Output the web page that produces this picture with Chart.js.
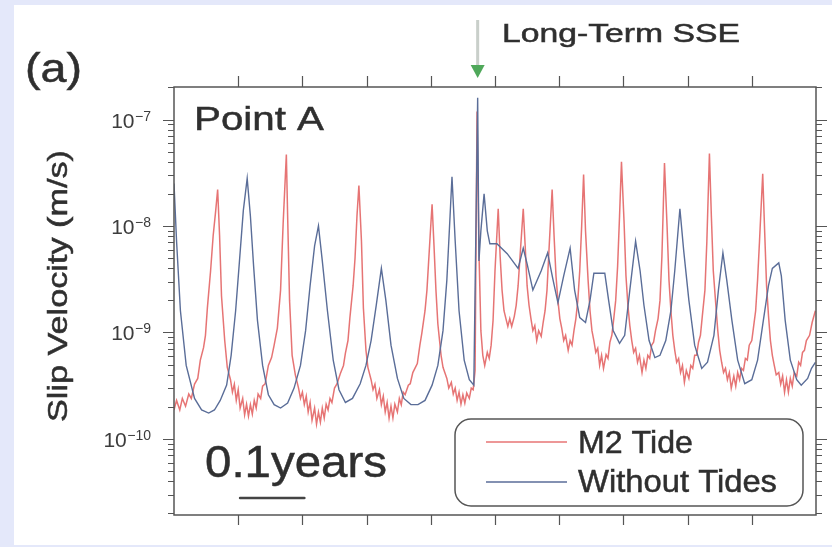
<!DOCTYPE html>
<html>
<head>
<meta charset="utf-8">
<script src="https://cdn.jsdelivr.net/npm/chart.js@4.4.0/dist/chart.umd.min.js"></script>
<style>
  html, body { margin: 0; padding: 0; background: #e4e8fa; }
  #wrap { width: 832px; height: 547px; }
</style>
</head>
<body>
<div id="wrap"><canvas id="slipChart" width="832" height="547"></canvas></div>
<script>
// time in years (axis spans 1 year, ticks every 0.1), slip velocity in m/s

// "Without Tides"
const freeT = [
  0.000, 0.004, 0.010, 0.019, 0.032, 0.043, 0.054, 0.063, 0.072, 0.082,
  0.089, 0.096, 0.102, 0.108, 0.114, 0.119, 0.124, 0.130, 0.138, 0.147,
  0.156, 0.166, 0.177, 0.187, 0.197, 0.205, 0.212, 0.219, 0.225, 0.231,
  0.239, 0.248, 0.257, 0.267, 0.278, 0.290, 0.299, 0.307, 0.315, 0.323,
  0.330, 0.338, 0.348, 0.358, 0.369, 0.380, 0.391, 0.402, 0.411, 0.419,
  0.425, 0.430, 0.433, 0.438, 0.444, 0.452, 0.460, 0.467, 0.473, 0.475,
  0.478, 0.483, 0.488, 0.492, 0.503, 0.519, 0.536, 0.544, 0.550, 0.559,
  0.572, 0.582, 0.590, 0.598, 0.607, 0.617, 0.624, 0.632, 0.641, 0.648,
  0.654, 0.671, 0.677, 0.684, 0.694, 0.702, 0.710, 0.719, 0.726, 0.732,
  0.740, 0.749, 0.757, 0.766, 0.774, 0.780, 0.788, 0.794, 0.802, 0.811,
  0.822, 0.831, 0.841, 0.848, 0.855, 0.861, 0.869, 0.878, 0.889, 0.900,
  0.909, 0.918, 0.926, 0.932, 0.942, 0.946, 0.952, 0.960, 0.970, 0.977,
  0.987, 0.993, 0.999
];
const freeV = [
  2.5e-8, 7.2e-9, 1.6e-9, 4.9e-10, 2.4e-10, 1.87e-10, 1.75e-10, 1.87e-10, 2.3e-10, 3.2e-10,
  6.1e-10, 1.6e-9, 4.7e-9, 1.4e-8, 2.8e-8, 1.24e-8, 4.2e-9, 1.3e-9, 4.9e-10, 2.6e-10,
  2.1e-10, 1.95e-10, 2.17e-10, 3.0e-10, 4.9e-10, 1.04e-9, 2.75e-9, 6.5e-9, 1.0e-8, 4.7e-9,
  1.6e-9, 5.5e-10, 2.9e-10, 2.2e-10, 2.4e-10, 3.3e-10, 4.9e-10, 8.4e-10, 1.8e-9, 4.0e-9,
  2.0e-9, 7.6e-10, 3.7e-10, 2.4e-10, 2.1e-10, 2.1e-10, 2.3e-10, 3.2e-10, 4.9e-10, 1.04e-9,
  3.1e-9, 1.24e-8, 2.9e-8, 7.2e-9, 1.6e-9, 5.5e-10, 3.6e-10, 3.2e-10, 1.6e-7, 4.7e-9,
  9.0e-9, 2.0e-8, 9.0e-9, 6.8e-9, 6.8e-9, 5.5e-9, 4.0e-9, 6.2e-9, 4.4e-9, 2.5e-9,
  3.8e-9, 5.6e-9, 3.2e-9, 1.9e-9, 3.4e-9, 6.2e-9, 2.5e-9, 1.38e-9, 1.24e-9, 2.0e-9,
  3.6e-9, 3.6e-9, 2.0e-9, 1.04e-9, 7.9e-10, 9.4e-10, 2.5e-9, 7.2e-9, 3.8e-9, 1.8e-9,
  8.4e-10, 5.8e-10, 6.1e-10, 8.4e-10, 1.6e-9, 3.8e-9, 1.45e-8, 5.8e-9, 2.0e-9, 7.6e-10,
  4.6e-10, 5.25e-10, 9.4e-10, 2.5e-9, 5.6e-9, 3.1e-9, 1.3e-9, 5.5e-10, 3.3e-10, 3.6e-10,
  5.5e-10, 1.3e-9, 2.75e-9, 4.0e-9, 4.5e-9, 3.4e-9, 1.3e-9, 5.5e-10, 3.6e-10, 3.2e-10,
  3.7e-10, 4.6e-10, 5.25e-10
];

// "M2 Tide"
const tideT = [
  0.000, 0.004, 0.009, 0.013, 0.018, 0.023, 0.027, 0.032, 0.037, 0.041,
  0.046, 0.049, 0.052, 0.057, 0.061, 0.065, 0.068, 0.071, 0.074, 0.079,
  0.083, 0.088, 0.091, 0.094, 0.097, 0.100, 0.103, 0.107, 0.110, 0.113,
  0.116, 0.119, 0.122, 0.125, 0.128, 0.131, 0.135, 0.138, 0.142, 0.147,
  0.152, 0.156, 0.161, 0.166, 0.170, 0.175, 0.177, 0.180, 0.184, 0.189,
  0.194, 0.197, 0.200, 0.203, 0.206, 0.209, 0.212, 0.215, 0.219, 0.222,
  0.225, 0.228, 0.231, 0.234, 0.237, 0.240, 0.243, 0.246, 0.250, 0.254,
  0.259, 0.264, 0.267, 0.271, 0.274, 0.279, 0.282, 0.285, 0.288, 0.292,
  0.295, 0.299, 0.302, 0.307, 0.310, 0.313, 0.316, 0.320, 0.323, 0.326,
  0.329, 0.332, 0.335, 0.338, 0.341, 0.344, 0.348, 0.351, 0.354, 0.357,
  0.360, 0.365, 0.368, 0.372, 0.379, 0.383, 0.386, 0.391, 0.394, 0.399,
  0.402, 0.405, 0.408, 0.411, 0.416, 0.419, 0.425, 0.428, 0.432, 0.435,
  0.438, 0.441, 0.444, 0.447, 0.450, 0.453, 0.456, 0.460, 0.463, 0.466,
  0.469, 0.472, 0.475, 0.478, 0.481, 0.484, 0.488, 0.491, 0.494, 0.497,
  0.500, 0.505, 0.508, 0.511, 0.514, 0.517, 0.520, 0.523, 0.526, 0.530,
  0.533, 0.536, 0.539, 0.544, 0.547, 0.550, 0.553, 0.556, 0.559, 0.562,
  0.565, 0.568, 0.572, 0.575, 0.578, 0.581, 0.584, 0.589, 0.592, 0.595,
  0.598, 0.601, 0.604, 0.607, 0.610, 0.614, 0.617, 0.620, 0.623, 0.626,
  0.629, 0.632, 0.635, 0.638, 0.641, 0.645, 0.648, 0.651, 0.654, 0.657,
  0.660, 0.663, 0.666, 0.669, 0.673, 0.676, 0.679, 0.682, 0.685, 0.688,
  0.691, 0.694, 0.697, 0.701, 0.704, 0.707, 0.710, 0.713, 0.716, 0.719,
  0.722, 0.725, 0.729, 0.732, 0.735, 0.738, 0.741, 0.744, 0.747, 0.750,
  0.754, 0.757, 0.760, 0.764, 0.768, 0.771, 0.774, 0.777, 0.780, 0.783,
  0.786, 0.789, 0.792, 0.795, 0.798, 0.802, 0.805, 0.808, 0.811, 0.814,
  0.817, 0.820, 0.823, 0.827, 0.830, 0.834, 0.837, 0.840, 0.844, 0.847,
  0.850, 0.853, 0.856, 0.859, 0.862, 0.865, 0.868, 0.872, 0.875, 0.878,
  0.881, 0.884, 0.887, 0.890, 0.893, 0.896, 0.900, 0.903, 0.906, 0.909,
  0.912, 0.917, 0.920, 0.923, 0.926, 0.929, 0.932, 0.935, 0.938, 0.942,
  0.945, 0.948, 0.951, 0.954, 0.957, 0.960, 0.963, 0.966, 0.970, 0.973,
  0.976, 0.979, 0.982, 0.985, 0.990, 0.994, 0.999
];
const tideV = [
  1.87e-10, 2.3e-10, 1.87e-10, 2.4e-10, 2.03e-10, 2.64e-10, 2.4e-10, 3.27e-10, 3.7e-10, 5.5e-10,
  7.2e-10, 9.4e-10, 1.7e-9, 3.8e-9, 8.1e-9, 1.4e-8, 2.2e-8, 8.1e-9, 2.2e-9, 8.4e-10,
  4.7e-10, 3.6e-10, 2.75e-10, 3.27e-10, 2.3e-10, 2.9e-10, 1.95e-10, 2.4e-10, 1.68e-10, 2.12e-10,
  1.64e-10, 2.1e-10, 1.71e-10, 2.3e-10, 1.95e-10, 2.64e-10, 2.4e-10, 3.13e-10, 3.3e-10, 4.9e-10,
  5.8e-10, 7.6e-10, 1.1e-9, 2.5e-9, 1.05e-8, 4.7e-8, 1.24e-8, 2.0e-9, 6.1e-10, 4.0e-10,
  3.0e-10, 2.4e-10, 2.75e-10, 2.1e-10, 2.52e-10, 1.79e-10, 2.2e-10, 1.5e-10, 1.95e-10, 1.38e-10,
  1.79e-10, 1.44e-10, 1.95e-10, 1.57e-10, 2.12e-10, 1.87e-10, 2.4e-10, 2.2e-10, 3.0e-10, 3.3e-10,
  4.1e-10, 4.9e-10, 6.4e-10, 8.4e-10, 1.38e-9, 2.75e-9, 5.0e-9, 1.24e-8, 2.4e-8, 7.2e-9,
  1.7e-9, 6.8e-10, 4.7e-10, 3.6e-10, 2.9e-10, 3.27e-10, 2.4e-10, 2.9e-10, 2.1e-10, 2.52e-10,
  1.79e-10, 2.2e-10, 1.57e-10, 2.03e-10, 1.57e-10, 2.12e-10, 1.79e-10, 2.4e-10, 2.1e-10, 2.75e-10,
  2.6e-10, 3.2e-10, 3.3e-10, 4.2e-10, 5.1e-10, 7.6e-10, 9.8e-10, 1.6e-9, 2.5e-9, 8.1e-9,
  1.6e-8, 6.5e-9, 2.5e-9, 1.2e-9, 6.1e-10, 4.7e-10, 3.7e-10, 3.0e-10, 3.4e-10, 2.64e-10,
  3.0e-10, 2.3e-10, 2.75e-10, 2.12e-10, 2.6e-10, 2.17e-10, 2.7e-10, 2.4e-10, 3.0e-10, 2.9e-10,
  4.4e-10, 1.19e-7, 5.8e-9, 1.04e-9, 6.1e-10, 4.9e-10, 6.5e-10, 5.7e-10, 7.6e-10, 1.3e-9,
  3.8e-9, 1.45e-8, 5.2e-9, 2.5e-9, 1.6e-9, 1.35e-9, 1.14e-9, 1.35e-9, 1.14e-9, 1.41e-9,
  1.8e-9, 2.75e-9, 5.2e-9, 1.45e-8, 6.5e-9, 2.75e-9, 1.8e-9, 1.35e-9, 1.04e-9, 1.16e-9,
  8.4e-10, 1.04e-9, 9.2e-10, 1.24e-9, 1.6e-9, 2.5e-9, 5.8e-9, 2.2e-8, 8.1e-9, 3.4e-9,
  2.0e-9, 1.35e-9, 1.09e-9, 8.4e-10, 9.4e-10, 6.8e-10, 8.4e-10, 7.6e-10, 1.04e-9, 1.35e-9,
  2.0e-9, 3.8e-9, 1.0e-8, 3.05e-8, 9.0e-9, 3.1e-9, 1.6e-9, 1.04e-9, 8.4e-10, 6.5e-10,
  7.1e-10, 4.9e-10, 6.1e-10, 4.6e-10, 6.2e-10, 5.7e-10, 8.1e-10, 9.4e-10, 1.35e-9, 2.0e-9,
  4.2e-9, 1.24e-8, 4.0e-8, 1.1e-8, 3.4e-9, 1.8e-9, 1.16e-9, 8.4e-10, 6.5e-10, 7.1e-10,
  5.25e-10, 6.1e-10, 4.2e-10, 5.5e-10, 4.6e-10, 6.1e-10, 5.7e-10, 7.6e-10, 8.1e-10, 1.04e-9,
  1.35e-9, 2.0e-9, 5.2e-9, 3.9e-8, 1.0e-8, 3.1e-9, 1.6e-9, 9.4e-10, 6.8e-10, 5.25e-10,
  5.7e-10, 4.2e-10, 4.9e-10, 3.4e-10, 4.4e-10, 3.7e-10, 4.9e-10, 4.6e-10, 6.1e-10, 6.1e-10,
  8.1e-10, 9.4e-10, 1.44e-9, 2.5e-9, 7.2e-9, 4.8e-8, 1.24e-8, 3.8e-9, 1.8e-9, 1.04e-9,
  6.8e-10, 5.25e-10, 4.2e-10, 4.6e-10, 3.6e-10, 4.2e-10, 3.0e-10, 3.9e-10, 3.13e-10, 4.2e-10,
  3.6e-10, 4.6e-10, 4.4e-10, 5.7e-10, 5.5e-10, 7.6e-10, 8.4e-10, 1.16e-9, 1.6e-9, 3.1e-9,
  7.2e-9, 3.1e-8, 9.0e-9, 2.75e-9, 1.44e-9, 8.4e-10, 6.1e-10, 4.9e-10, 4.0e-10, 4.2e-10,
  3.27e-10, 3.9e-10, 2.75e-10, 3.6e-10, 2.75e-10, 3.7e-10, 3.13e-10, 4.2e-10, 3.9e-10, 5.25e-10,
  4.9e-10, 6.5e-10, 6.8e-10, 8.4e-10, 9.4e-10, 1.24e-9, 1.6e-9
];

const xTicks = [0.1, 0.2, 0.3, 0.4, 0.5, 0.6, 0.7, 0.8, 0.9];
const yDecades = [1e-7, 1e-8, 1e-9, 1e-10];
const yDecadeExp = ['\u22127', '\u22128', '\u22129', '\u221210'];
const seriesNames = ['M2 Tide', 'Without Tides'];
const sseTime = 0.473;
const scaleBarStart = 0.103;
const scaleBarLength = 0.1;

const FONT = '"Liberation Sans", Arial, Helvetica, sans-serif';
const RED = 'rgba(226, 92, 92, 0.85)';
const BLUE = '#5a6d98';
const INK = '#2f2f2f';

// draw text squeezed/stretched to a measured width
function fitText(ctx, text, x, y, size, width, rotate) {
  ctx.save();
  ctx.font = size + 'px ' + FONT;
  const w = ctx.measureText(text).width;
  ctx.translate(x, y);
  if (rotate) ctx.rotate(rotate);
  ctx.scale(width / w, 1);
  ctx.fillStyle = INK;
  ctx.strokeStyle = INK;
  ctx.lineWidth = 0.5;
  ctx.textBaseline = 'alphabetic';
  ctx.fillText(text, rotate ? -w / 2 : 0, 0);
  ctx.strokeText(text, rotate ? -w / 2 : 0, 0);
  ctx.restore();
}

function roundBox(ctx, x, y, w, h, r) {
  ctx.beginPath();
  ctx.moveTo(x + r, y);
  ctx.arcTo(x + w, y, x + w, y + h, r);
  ctx.arcTo(x + w, y + h, x, y + h, r);
  ctx.arcTo(x, y + h, x, y, r);
  ctx.arcTo(x, y, x + w, y, r);
  ctx.closePath();
}

const paperPlugin = {
  id: 'paper',
  beforeDraw(chart) {
    const ctx = chart.ctx;
    ctx.save();
    ctx.fillStyle = '#e4e8fa';
    ctx.fillRect(0, 0, chart.width, chart.height);
    ctx.fillStyle = '#ffffff';
    ctx.fillRect(14, 5, chart.width - 14, 540);
    ctx.restore();
  }
};

const framePlugin = {
  id: 'frame',
  afterDatasetsDraw(chart) {
    const ctx = chart.ctx;
    const { left, right, top, bottom } = chart.chartArea;
    const xs = chart.scales.x, ys = chart.scales.y;
    ctx.save();

    // box
    ctx.strokeStyle = '#555';
    ctx.lineWidth = 1.5;
    ctx.strokeRect(left, top, right - left, bottom - top);

    // x ticks, outward on top and bottom
    ctx.lineWidth = 1.2;
    ctx.beginPath();
    xTicks.forEach(t => {
      const px = Math.round(xs.getPixelForValue(t)) + 0.5;
      ctx.moveTo(px, top); ctx.lineTo(px, top - 11);
      ctx.moveTo(px, bottom); ctx.lineTo(px, bottom + 10);
    });
    ctx.stroke();

    // y ticks, outward on both sides
    ctx.lineWidth = 1;
    ctx.beginPath();
    [1e-11, 1e-10, 1e-9, 1e-8, 1e-7].forEach(d => {
      for (let k = 1; k <= 9; k++) {
        const v = k * d;
        if (v < ys.min || v > ys.max) continue;
        const py = Math.round(ys.getPixelForValue(v)) + 0.5;
        const len = k === 1 ? 11 : 6;
        ctx.moveTo(left - len, py); ctx.lineTo(left, py);
        ctx.moveTo(right, py); ctx.lineTo(right + len, py);
      }
    });
    ctx.stroke();

    // decade labels 10^n
    ctx.fillStyle = '#3c3c3c';
    ctx.textAlign = 'right';
    ctx.textBaseline = 'alphabetic';
    yDecades.forEach((v, i) => {
      const py = ys.getPixelForValue(v);
      ctx.font = '14px ' + FONT;
      const ew = ctx.measureText(yDecadeExp[i]).width;
      ctx.fillText(yDecadeExp[i], 151, py + 1);
      ctx.font = '21px ' + FONT;
      ctx.fillText('10', 151 - ew - 0.5, py + 8);
    });
    ctx.textAlign = 'left';

    // axis title and panel texts
    fitText(ctx, 'Slip Velocity (m/s)', 67, 286, 28, 272, -Math.PI / 2);
    fitText(ctx, '(a)', 25, 82, 40, 57);
    fitText(ctx, 'Point A', 194, 130, 34, 130);
    fitText(ctx, 'Long-Term SSE', 502, 42, 25, 238);
    fitText(ctx, '0.1years', 205, 477, 44, 182);

    // 0.1 year scale bar
    const b0 = xs.getPixelForValue(scaleBarStart);
    const b1 = xs.getPixelForValue(scaleBarStart + scaleBarLength);
    ctx.strokeStyle = '#444';
    ctx.lineWidth = 2.6;
    ctx.lineCap = 'round';
    ctx.beginPath();
    ctx.moveTo(b0, 498); ctx.lineTo(b1, 498);
    ctx.stroke();
    ctx.lineCap = 'butt';

    // arrow marking the long-term SSE
    const ax = xs.getPixelForValue(sseTime);
    ctx.fillStyle = '#c9cfca';
    ctx.fillRect(ax - 1.5, 20, 3, 46);
    ctx.fillStyle = '#4fa85a';
    ctx.beginPath();
    ctx.moveTo(ax - 7, 65); ctx.lineTo(ax + 7, 65); ctx.lineTo(ax, 78);
    ctx.closePath();
    ctx.fill();

    // legend box
    roundBox(ctx, 455, 419, 348, 87, 16);
    ctx.fillStyle = '#fff';
    ctx.fill();
    ctx.strokeStyle = '#555';
    ctx.lineWidth = 1.5;
    ctx.stroke();
    ctx.lineWidth = 1.5;
    ctx.strokeStyle = RED;
    ctx.beginPath(); ctx.moveTo(486, 442); ctx.lineTo(567, 442); ctx.stroke();
    ctx.strokeStyle = BLUE;
    ctx.beginPath(); ctx.moveTo(486, 482); ctx.lineTo(567, 482); ctx.stroke();
    fitText(ctx, seriesNames[0], 578, 453, 32, 115);
    fitText(ctx, seriesNames[1], 578, 492, 32, 199);

    ctx.restore();
  }
};

const tidePoints = tideT.map((t, i) => ({ x: t, y: tideV[i] }));
const freePoints = freeT.map((t, i) => ({ x: t, y: freeV[i] }));

new Chart(document.getElementById('slipChart'), {
  type: 'line',
  data: {
    datasets: [
      { label: seriesNames[0], data: tidePoints, borderColor: RED, borderWidth: 1.5, order: 2 },
      { label: seriesNames[1], data: freePoints, borderColor: BLUE, borderWidth: 1.4, order: 1 }
    ]
  },
  options: {
    responsive: false,
    animation: false,
    layout: { padding: { left: 174, top: 87, right: 16, bottom: 32 } },
    elements: { point: { radius: 0 }, line: { tension: 0 } },
    plugins: { legend: { display: false }, tooltip: { enabled: false } },
    scales: {
      x: { type: 'linear', min: 0, max: 1, display: false },
      y: { type: 'logarithmic', min: 1.93e-11, max: 2.02e-7, display: false }
    }
  },
  plugins: [paperPlugin, framePlugin]
});
</script>
</body>
</html>
